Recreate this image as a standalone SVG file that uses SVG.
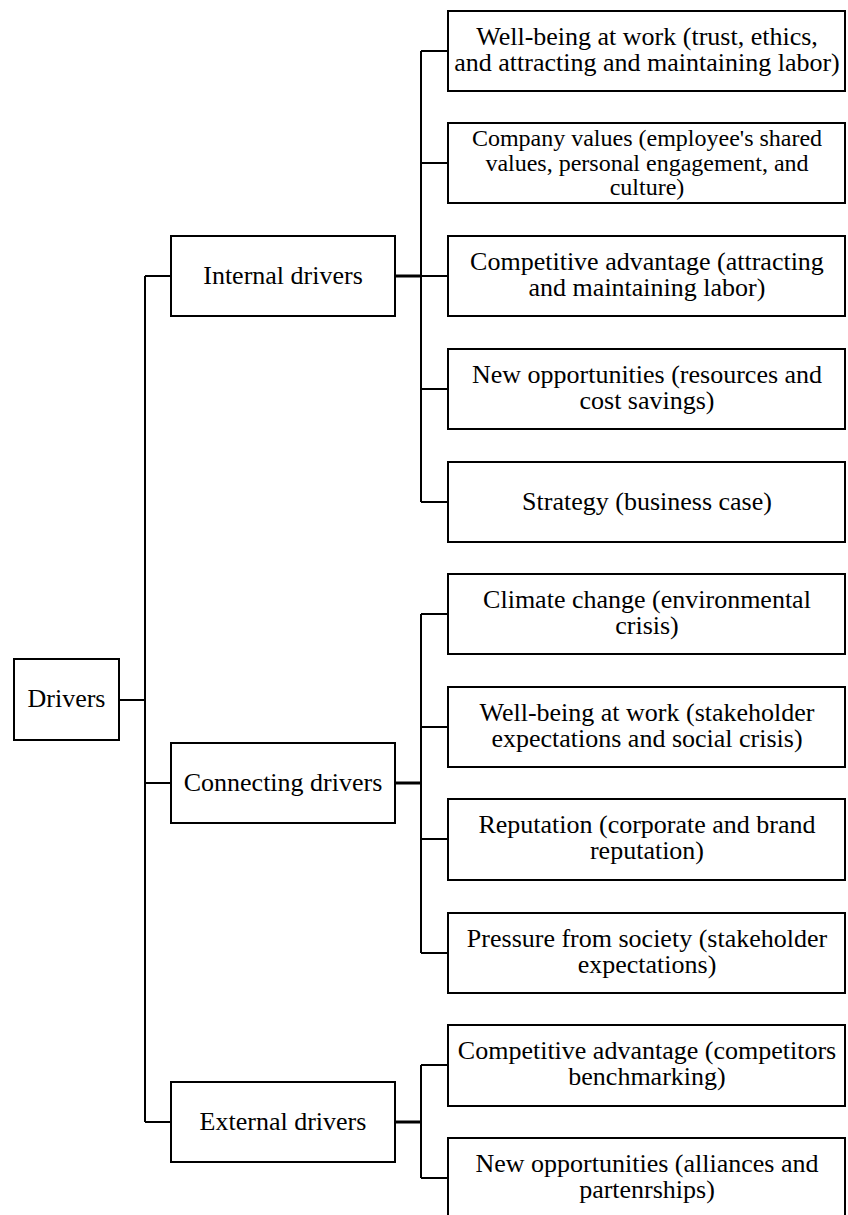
<svg xmlns="http://www.w3.org/2000/svg" width="848" height="1215" viewBox="0 0 848 1215">
<style>
.box{fill:#fff;stroke:#000;stroke-width:2}
text{font-family:'Liberation Serif','Times New Roman',Times,serif;font-size:26px;fill:#000;text-anchor:middle}
text.s{font-size:24px}
.c{fill:none;stroke:#000;stroke-width:2}
.ct{stroke-width:3}
</style>
<rect width="848" height="1215" fill="#fff"/>
<g id="connectors">
<path class="c" d="M119,700H145M145,276V1122M145,276H171M145,783H171M145,1122H171"/>
<path class="c ct" d="M395,276H421M395,783H421M395,1122H421"/>
<path class="c" d="M421,51V502M421,51H448M421,163H448M421,276H448M421,389H448M421,502H448"/>
<path class="c" d="M421,614V953M421,614H448M421,727H448M421,839H448M421,953H448"/>
<path class="c" d="M421,1065V1178M421,1065H448M421,1178H448"/>
</g>
<g font-family="Liberation Serif, serif">
<g id="drivers"><rect class="box" x="14" y="659" width="105" height="81"/><text x="66.5" y="707">Drivers</text></g>
<g id="internal"><rect class="box" x="171" y="236" width="224" height="80"/><text x="283" y="283.5">Internal drivers</text></g>
<g id="connecting"><rect class="box" x="171" y="743" width="224" height="80"/><text x="283" y="790.5">Connecting drivers</text></g>
<g id="external"><rect class="box" x="171" y="1082" width="224" height="80"/><text x="283" y="1129.5">External drivers</text></g>
<g id="n1"><rect class="box" x="448" y="11" width="397" height="80"/><text x="647" y="44.5">Well-being at work (trust, ethics,</text><text x="647" y="71">and attracting and maintaining labor)</text></g>
<g id="n2"><rect class="box" x="448" y="123" width="397" height="80"/><text class="s" x="647" y="146">Company values (employee's shared</text><text class="s" x="647" y="171">values, personal engagement, and</text><text class="s" x="647" y="195">culture)</text></g>
<g id="n3"><rect class="box" x="448" y="236" width="397" height="80"/><text x="647" y="269.5">Competitive advantage (attracting</text><text x="647" y="296">and maintaining labor)</text></g>
<g id="n4"><rect class="box" x="448" y="349" width="397" height="80"/><text x="647" y="382.5">New opportunities (resources and</text><text x="647" y="409">cost savings)</text></g>
<g id="n5"><rect class="box" x="448" y="462" width="397" height="80"/><text x="647" y="509.5">Strategy (business case)</text></g>
<g id="n6"><rect class="box" x="448" y="574" width="397" height="80"/><text x="647" y="607.5">Climate change (environmental</text><text x="647" y="634">crisis)</text></g>
<g id="n7"><rect class="box" x="448" y="687" width="397" height="80"/><text x="647" y="720.5">Well-being at work (stakeholder</text><text x="647" y="747">expectations and social crisis)</text></g>
<g id="n8"><rect class="box" x="448" y="799" width="397" height="81"/><text x="647" y="832.5">Reputation (corporate and brand</text><text x="647" y="859">reputation)</text></g>
<g id="n9"><rect class="box" x="448" y="913" width="397" height="80"/><text x="647" y="946.5">Pressure from society (stakeholder</text><text x="647" y="973">expectations)</text></g>
<g id="n10"><rect class="box" x="448" y="1025" width="397" height="81"/><text x="647" y="1058.5">Competitive advantage (competitors</text><text x="647" y="1085">benchmarking)</text></g>
<g id="n11"><rect class="box" x="448" y="1138" width="397" height="80"/><text x="647" y="1171.5">New opportunities (alliances and</text><text x="647" y="1198">partenrships)</text></g>
</g>
</svg>
